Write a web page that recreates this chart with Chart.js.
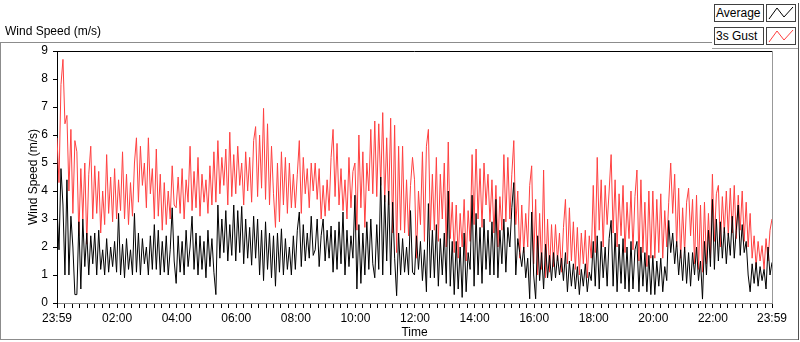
<!DOCTYPE html>
<html>
<head>
<meta charset="utf-8">
<script src="https://cdn.jsdelivr.net/npm/chart.js@4.4.0/dist/chart.umd.min.js"></script>
<style>
  body { margin: 0; background: #fff; }
  #wrap { position: relative; width: 800px; height: 342px; font-family: "Liberation Sans", Arial, sans-serif; font-size: 12px; color: #000; }
  #wrap canvas { position: absolute; left: 0; top: 0; }
  .ln { position: absolute; background: #8c8c8c; }
  #title { position: absolute; left: 5px; top: 24px; }
  .lg { position: absolute; height: 16px; border: 1px solid #404040; background: #fff; line-height: 16px; }
  .lg.txt { left: 714px; width: 47px; padding-left: 1px; }
  .lg.ico { left: 766px; width: 28px; }
</style>
</head>
<body>
<div id="wrap">
  <canvas id="chart" width="800" height="342"></canvas>
  <div class="ln" style="left:0;top:42px;width:712px;height:1px"></div>
  <div class="ln" style="left:0;top:42px;width:1px;height:298px"></div>
  <div class="ln" style="left:0;top:339px;width:799px;height:1px"></div>
  <div class="ln" style="left:798px;top:3px;width:1px;height:337px;background:#505050"></div>
  <div class="ln" style="left:712px;top:48px;width:86px;height:1px;background:#a0a0a0"></div>
  <div id="title">Wind Speed (m/s)</div>
  <div class="lg txt" style="top:4px">Average</div>
  <div class="lg ico" style="top:4px"><svg width="28" height="16"><polyline points="2,14 10,3 17,12 26,2" fill="none" stroke="#000" stroke-width="1"/></svg></div>
  <div class="lg txt" style="top:27px">3s Gust</div>
  <div class="lg ico" style="top:27px"><svg width="28" height="16"><polyline points="2,14 10,3 17,12 26,2" fill="none" stroke="#ff4040" stroke-width="1"/></svg></div>
</div>
<script>
// one sample every 4 minutes, first one at 23:59 the day before
const sampleStep = 4;
const firstSample = -1;

// 3s gust, m/s (10 samples = 40 min per row)
const gust = [
  5.9, 4.3, 7.8, 8.7, 6.4, 6.7, 4.0, 6.2, 3.2, 5.8,
  5.4, 2.4, 4.8, 3.0, 5.0, 2.1, 4.6, 5.6, 3.0, 4.9,
  3.2, 4.7, 2.5, 4.0, 2.8, 5.3, 3.2, 4.5, 2.9, 4.8,
  3.0, 4.4, 3.3, 5.4, 3.0, 4.6, 2.8, 4.3, 3.1, 5.0,
  5.9, 3.6, 5.6, 4.2, 5.0, 3.4, 5.9, 3.9, 4.8, 3.0,
  5.5, 3.1, 4.6, 2.6, 4.3, 2.8, 4.0, 3.0, 4.9, 3.5,
  3.4, 4.5, 3.2, 4.8, 3.0, 4.4, 3.6, 5.6, 3.3, 4.7,
  3.4, 5.2, 3.1, 4.6, 3.6, 4.4, 3.2, 4.9, 3.5, 5.4,
  3.6, 5.8, 3.9, 5.2, 4.2, 5.5, 3.5, 6.1, 3.8, 5.3,
  3.9, 5.6, 4.2, 5.0, 3.5, 5.4, 4.0, 5.2, 3.6, 5.8,
  6.3, 3.8, 6.0, 4.1, 6.95, 3.7, 6.4, 3.5, 5.6, 3.9,
  2.7, 5.0, 2.9, 5.4, 3.5, 5.2, 3.2, 5.0, 3.4, 4.6,
  3.4, 4.6, 5.8, 3.2, 5.2, 3.9, 4.8, 3.4, 5.0, 4.0,
  5.0, 3.7, 4.8, 3.0, 4.2, 3.1, 4.4, 3.3, 5.2, 6.2,
  3.8, 5.7, 3.5, 4.8, 3.3, 4.4, 3.0, 5.2, 3.4, 4.7,
  5.0, 2.6, 6.0, 3.4, 5.4, 2.7, 5.0, 4.0, 6.2, 3.9,
  6.5, 3.8, 6.4, 4.2, 6.8, 3.6, 5.9, 3.5, 6.6, 2.5,
  6.35, 1.8, 5.6, 2.6, 5.6, 2.5, 4.4, 2.4, 4.2, 5.2,
  4.4, 1.6, 4.0, 2.8, 5.4, 2.2, 5.6, 6.2, 2.6, 4.6,
  2.6, 5.2, 2.2, 4.6, 3.0, 5.0, 2.0, 5.75, 2.3, 3.6,
  1.8, 3.5, 1.6, 3.2, 2.0, 3.7, 1.5, 3.3, 2.2, 5.3,
  2.8, 5.5, 3.0, 4.8, 2.7, 5.0, 3.5, 4.6, 2.9, 4.4,
  2.5, 4.2, 2.0, 3.8, 2.6, 5.3, 2.9, 5.2, 3.0, 4.6,
  5.8, 2.8, 4.0, 1.6, 3.5, 1.8, 3.2, 2.0, 4.2, 4.9,
  1.4, 3.7, 1.0, 3.2, 1.2, 4.75, 0.9, 3.0, 1.1, 2.8,
  1.3, 2.8, 1.5, 2.5, 1.1, 2.7, 3.7, 1.4, 3.4, 1.5,
  2.9, 1.2, 2.7, 1.0, 2.5, 1.4, 2.6, 0.9, 2.4, 1.6,
  4.2, 1.8, 5.2, 2.6, 4.4, 2.0, 4.2, 2.8, 4.0, 5.3,
  2.5, 4.4, 2.0, 3.9, 2.4, 4.2, 1.8, 3.6, 2.3, 4.0,
  1.9, 3.8, 4.75, 1.5, 4.4, 1.8, 3.6, 1.3, 4.0, 1.6,
  4.0, 1.6, 3.7, 1.8, 3.9, 1.6, 3.3, 2.0, 3.6, 5.0,
  3.2, 4.6, 2.0, 4.1, 1.6, 3.4, 1.8, 3.6, 4.1, 2.4,
  3.7, 1.4, 3.85, 1.2, 3.5, 1.1, 3.6, 1.4, 3.2, 1.6,
  4.6, 2.2, 3.9, 4.2, 2.0, 3.8, 2.5, 4.0, 2.4, 4.1,
  2.5, 4.2, 2.3, 3.85, 2.6, 4.0, 2.2, 3.6, 2.0, 3.2,
  1.6, 2.4, 1.3, 2.2, 1.5, 2.05, 1.2, 2.3, 1.5, 2.6,
  3.0
];

// average, m/s
const average = [
  3.4, 1.9, 4.8, 3.5, 1.0, 4.4, 1.0, 3.1, 2.0, 0.3,
  0.3, 2.9, 0.5, 3.0, 1.3, 2.5, 1.0, 2.4, 1.4, 2.5,
  1.0, 2.6, 1.2, 1.9, 1.0, 2.3, 1.1, 2.0, 1.3, 2.2,
  1.1, 3.2, 1.0, 2.1, 0.9, 2.3, 1.2, 1.9, 1.0, 3.2,
  1.1, 2.5, 1.0, 2.3, 1.4, 2.0, 1.0, 2.4, 1.2, 2.8,
  1.2, 2.6, 1.0, 2.2, 1.1, 2.4, 1.0, 1.9, 3.4, 1.5,
  0.7, 2.4, 1.1, 2.2, 1.0, 2.6, 1.3, 2.0, 3.1, 1.2,
  2.5, 1.0, 2.4, 1.2, 2.2, 0.9, 2.6, 1.3, 2.3, 1.1,
  0.3, 3.5, 1.6, 3.0, 1.8, 3.3, 1.5, 2.8, 1.7, 3.5,
  1.5, 3.3, 1.8, 3.45, 1.4, 3.0, 1.6, 2.7, 1.35, 3.1,
  1.6, 3.0, 1.0, 2.6, 0.8, 2.9, 1.2, 2.5, 0.9, 2.4,
  0.6, 2.5, 1.1, 2.65, 1.0, 2.3, 1.2, 2.0, 1.0, 2.4,
  1.2, 2.6, 3.25, 1.3, 2.8, 1.5, 2.5, 1.6, 3.1, 1.7,
  1.9, 3.0, 1.3, 2.4, 3.0, 1.5, 2.6, 1.6, 2.75, 1.1,
  2.6, 1.2, 2.9, 1.4, 3.25, 1.0, 2.6, 1.3, 2.4, 1.6,
  3.85, 0.5, 2.8, 0.7, 2.5, 1.0, 2.9, 1.2, 3.0, 1.4,
  0.9, 2.8, 1.2, 4.5, 1.0, 3.85, 1.5, 4.0, 1.0, 3.6,
  1.6, 0.26, 2.5, 1.0, 2.3, 1.1, 2.0, 1.0, 3.3, 1.1,
  1.0, 2.4, 1.2, 2.2, 0.8, 1.9, 0.4, 3.55, 0.9, 2.6,
  0.9, 2.8, 0.6, 2.3, 1.0, 2.5, 0.7, 4.0, 0.6, 2.2,
  0.3, 2.2, 0.5, 2.0, 0.2, 2.5, 0.4, 1.8, 1.2, 3.85,
  0.6, 3.2, 1.0, 2.7, 0.7, 3.0, 1.2, 2.6, 1.0, 2.9,
  1.0, 3.7, 0.9, 2.6, 1.4, 3.0, 1.1, 2.7, 2.0, 3.4,
  4.3, 1.0, 2.3, 1.8, 1.3, 2.0, 0.9, 1.6, 0.15, 3.25,
  1.0, 0.15, 2.4, 0.8, 1.8, 0.5, 2.1, 0.9, 1.7, 0.8,
  1.8, 0.9, 1.7, 1.0, 1.6, 0.8, 1.8, 0.4, 1.5, 0.6,
  1.4, 0.5, 1.3, 0.3, 1.2, 0.6, 1.4, 0.4, 1.1, 0.8,
  2.2, 0.6, 2.4, 0.5, 2.2, 0.9, 2.0, 0.6, 2.3, 2.95,
  0.6, 2.5, 0.4, 2.1, 0.7, 2.3, 0.5, 2.0, 0.4, 2.2,
  0.5, 1.9, 2.2, 0.4, 2.0, 0.6, 1.8, 0.4, 1.7, 0.3,
  1.7, 0.3, 1.5, 0.6, 1.6, 0.4, 1.3, 0.8, 2.95, 1.8,
  2.5, 1.4, 2.2, 1.0, 1.9, 0.8, 2.0, 0.7, 1.8, 0.6,
  1.8, 1.0, 2.0, 0.8, 1.5, 0.14, 2.2, 1.0, 2.6, 1.3,
  3.7, 1.2, 3.0, 1.5, 2.9, 1.6, 2.7, 1.4, 2.5, 1.7,
  3.1, 1.6, 2.6, 3.5, 1.7, 2.8, 1.8, 2.2, 1.0, 0.4,
  1.4, 0.7, 1.45, 0.6, 1.3, 0.8, 1.2, 0.5, 2.0, 1.0,
  1.45
];

// axis labels (minutes after midnight)
const majorMinutes = [-1, 120, 240, 360, 480, 600, 720, 840, 960, 1080, 1200, 1320, 1439];
const majorLabels = ["23:59", "02:00", "04:00", "06:00", "08:00", "10:00", "12:00", "14:00", "16:00", "18:00", "20:00", "22:00", "23:59"];

const tickMinutes = [-1];
for (let m = 15; m < 1439; m += 15) tickMinutes.push(m);
tickMinutes.push(1439);

const toPoints = arr => arr.map((v, i) => ({ x: firstSample + i * sampleStep, y: v }));

const font = { family: "'Liberation Sans', Arial, sans-serif", size: 12 };

// top + right edge of the plot box
const plotFrame = {
  id: "plotFrame",
  afterDraw(c) {
    const { ctx, chartArea: a } = c;
    ctx.save();
    ctx.lineWidth = 1;
    ctx.strokeStyle = "#000";
    ctx.beginPath();
    ctx.moveTo(a.left, Math.floor(a.top) + 0.5);
    ctx.lineTo(a.right, Math.floor(a.top) + 0.5);
    ctx.stroke();
    ctx.strokeStyle = "#999";
    ctx.beginPath();
    ctx.moveTo(Math.floor(a.right) + 0.5, a.top);
    ctx.lineTo(Math.floor(a.right) + 0.5, a.bottom);
    ctx.stroke();
    ctx.restore();
  }
};

new Chart(document.getElementById("chart"), {
  type: "line",
  data: {
    datasets: [
      { label: "Average", data: toPoints(average), borderColor: "#000", borderWidth: 1, pointRadius: 0, tension: 0 },
      { label: "3s Gust", data: toPoints(gust), borderColor: "#ff4040", borderWidth: 1, pointRadius: 0, tension: 0 }
    ]
  },
  options: {
    responsive: false,
    animation: false,
    layout: { padding: { top: 51, right: 28, left: 0, bottom: 0 } },
    plugins: { legend: { display: false }, tooltip: { enabled: false } },
    scales: {
      x: {
        type: "linear",
        min: -1,
        max: 1439,
        afterBuildTicks: s => { s.ticks = tickMinutes.map(v => ({ value: v })); },
        afterFit: s => { s.height = 39; },
        grid: { drawOnChartArea: false, drawTicks: true, tickLength: 5, tickColor: "#000" },
        border: { color: "#888" },
        ticks: {
          autoSkip: false, maxRotation: 0, padding: 3, color: "#000", font: font,
          callback: v => { const i = majorMinutes.indexOf(v); return i >= 0 ? majorLabels[i] : ""; }
        },
        title: { display: true, text: "Time", color: "#000", font: font, padding: { top: 0, bottom: 2 } }
      },
      y: {
        min: 0,
        max: 9,
        afterFit: s => { s.width = 57; },
        grid: { drawOnChartArea: false, drawTicks: true, tickLength: 4, tickColor: "#000" },
        border: { color: "#000" },
        ticks: { stepSize: 1, padding: 5, color: "#000", font: font },
        title: { display: true, text: "Wind Speed (m/s)", color: "#000", font: font, padding: { top: 26, bottom: 0 } }
      }
    }
  },
  plugins: [plotFrame]
});
</script>
</body>
</html>
